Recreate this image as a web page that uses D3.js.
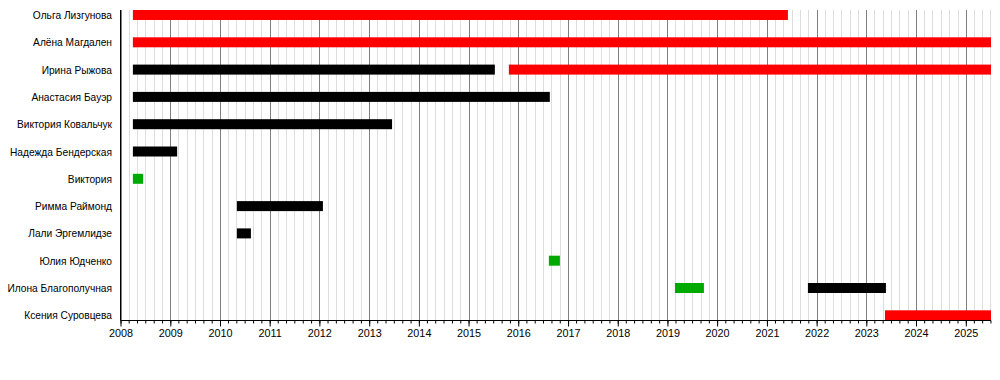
<!DOCTYPE html>
<html>
<head>
<meta charset="utf-8">
<script src="https://cdn.jsdelivr.net/npm/d3@7"></script>
<style>
  body { margin: 0; background: #fff; }
  text { font-family: "Liberation Sans", Arial, sans-serif; }
</style>
</head>
<body>
<div id="chart"></div>
<script>
// members, top to bottom
const members = [
  'Ольга Лизгунова', 'Алёна Магдален', 'Ирина Рыжова', 'Анастасия Бауэр',
  'Виктория Ковальчук', 'Надежда Бендерская', 'Виктория', 'Римма Раймонд',
  'Лали Эргемлидзе', 'Юлия Юдченко', 'Илона Благополучная', 'Ксения Суровцева'
];
// periods: [member, start, end, status]
const periods = [
  ['Ольга Лизгунова', '2008-04-01', '2021-06-04', 'current'],
  ['Алёна Магдален', '2008-04-01', '2025-07-05', 'current'],
  ['Ирина Рыжова', '2008-04-01', '2015-07-13', 'former'],
  ['Ирина Рыжова', '2015-10-24', '2025-07-05', 'current'],
  ['Анастасия Бауэр', '2008-04-01', '2016-08-20', 'former'],
  ['Виктория Ковальчук', '2008-04-01', '2013-06-18', 'former'],
  ['Надежда Бендерская', '2008-04-01', '2009-02-20', 'former'],
  ['Виктория', '2008-04-01', '2008-06-15', 'guest'],
  ['Римма Раймонд', '2010-05-05', '2012-01-27', 'former'],
  ['Лали Эргемлидзе', '2010-05-05', '2010-08-16', 'former'],
  ['Юлия Юдченко', '2016-08-13', '2016-11-02', 'guest'],
  ['Илона Благополучная', '2019-02-25', '2019-09-26', 'guest'],
  ['Илона Благополучная', '2021-10-29', '2023-05-25', 'former'],
  ['Ксения Суровцева', '2023-05-18', '2025-07-05', 'current']
];
const statuses = ['current', 'former', 'guest'];
const domainStart = '2008-01-01', domainEnd = '2025-07-05';

const width = 1000, height = 380;
const parse = d3.timeParse('%Y-%m-%d');

const svg = d3.select('#chart').append('svg')
    .attr('width', width).attr('height', height);

const x = d3.scaleTime()
    .domain([parse(domainStart), parse(domainEnd)])
    .range([120.5, 991]);
const y = d3.scaleBand()
    .domain(members)
    .range([10, 10 + members.length * 27.3]);
const color = d3.scaleOrdinal()
    .domain(statuses)
    .range(['#ff0000', '#000000', '#00aa00']);

const plotTop = 10, plotBottom = 320.5;

// grid lines
const minor = x.ticks(d3.timeMonth.every(2));
svg.append('g').selectAll('line')
    .data(minor)
    .join('line')
    .attr('x1', d => Math.round(x(d)) + 0.5)
    .attr('x2', d => Math.round(x(d)) + 0.5)
    .attr('y1', plotTop).attr('y2', plotBottom)
    .attr('stroke', d => d.getMonth() === 0 ? '#808080' : '#dddddd')
    .attr('stroke-width', 1);

// bars
svg.append('g').selectAll('rect')
    .data(periods)
    .join('rect')
    .attr('x', d => x(parse(d[1])))
    .attr('width', d => x(parse(d[2])) - x(parse(d[1])))
    .attr('y', d => y(d[0]))
    .attr('height', 10)
    .attr('fill', d => color(d[3]));

// member labels
svg.append('g').selectAll('text')
    .data(members)
    .join('text')
    .attr('x', 112)
    .attr('y', d => y(d) + 5.5)
    .attr('dy', '0.35em')
    .attr('text-anchor', 'end')
    .attr('font-size', 10.2)
    .attr('fill', '#000')
    .text(d => d);

// x axis: minor ticks
const axisG = svg.append('g').attr('transform', `translate(0,${plotBottom})`);
axisG.call(d3.axisBottom(x).ticks(d3.timeMonth.every(2)).tickSize(3).tickFormat(''))
    .call(g => g.select('.domain').remove());
axisG.append('g')
    .call(d3.axisBottom(x).ticks(d3.timeYear.every(1)).tickSize(6).tickFormat(d3.timeFormat('%Y')))
    .call(g => g.select('.domain').remove())
    .call(g => g.selectAll('text')
        .attr('font-size', 10.8)
        .attr('font-family', '"Liberation Sans", Arial, sans-serif')
        .attr('fill', '#000')
        .attr('y', 9));
axisG.selectAll('line').attr('stroke', '#000');

// axis lines
svg.append('line')
    .attr('x1', 120.5).attr('x2', 991)
    .attr('y1', plotBottom).attr('y2', plotBottom)
    .attr('stroke', '#000');
svg.append('line')
    .attr('x1', 120.5).attr('x2', 120.5)
    .attr('y1', plotTop).attr('y2', plotBottom)
    .attr('stroke', '#000');
</script>
</body>
</html>
